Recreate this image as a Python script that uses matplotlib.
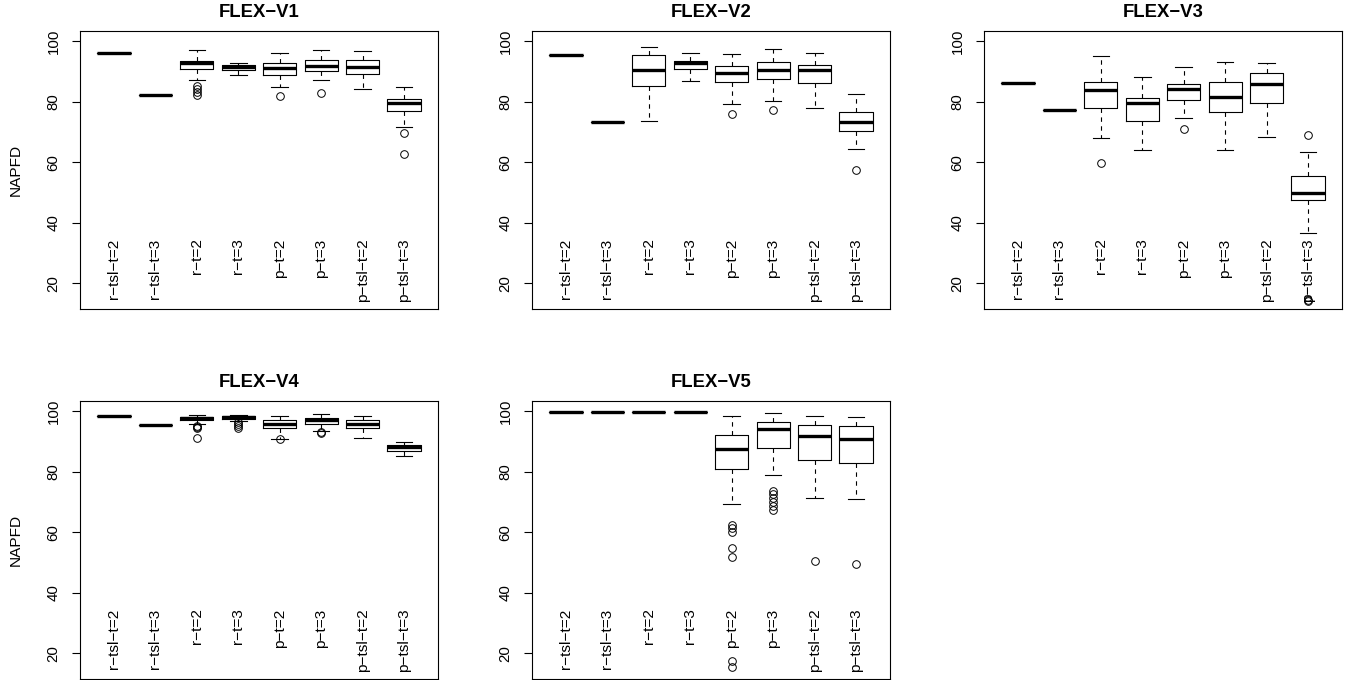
import matplotlib
matplotlib.use('Agg')
import matplotlib.pyplot as plt

plt.rcParams['font.family'] = ['Liberation Sans', 'DejaVu Sans']

# group names (R draws '-' as a minus sign)
labels = ['r−tsl−t=2', 'r−tsl−t=3', 'r−t=2', 'r−t=3',
          'p−t=2', 'p−t=3', 'p−tsl−t=2', 'p−tsl−t=3']
titles = ['FLEX−V1', 'FLEX−V2', 'FLEX−V3', 'FLEX−V4', 'FLEX−V5']

# five number summaries per group: whislo, q1, median, q3, whishi
v1_stats = [[96.1, 96.1, 96.1, 96.1, 96.1],
            [82.2, 82.2, 82.2, 82.2, 82.2],
            [87.2, 90.7, 92.7, 93.4, 97.1],
            [88.9, 90.6, 91.5, 92.3, 92.9],
            [85.0, 88.7, 91.1, 92.8, 96.2],
            [87.1, 90.1, 91.8, 93.9, 97.1],
            [84.2, 89.2, 91.4, 93.9, 96.8],
            [71.5, 76.9, 79.6, 81.0, 84.9]]
v1_fliers = [[], [], [85.2, 84.3, 83.2, 82.3], [], [82.0], [83.0], [], [69.8, 62.7]]

v2_stats = [[95.4, 95.4, 95.4, 95.4, 95.4],
            [73.3, 73.3, 73.3, 73.3, 73.3],
            [73.7, 85.3, 90.5, 95.6, 98.1],
            [86.9, 90.7, 92.9, 93.6, 96.2],
            [79.2, 86.5, 89.5, 91.7, 95.7],
            [80.4, 87.5, 90.5, 93.0, 97.6],
            [78.0, 86.1, 90.6, 92.2, 96.0],
            [64.3, 70.4, 73.3, 76.6, 82.7]]
v2_fliers = [[], [], [], [], [75.9], [77.2], [], [57.4]]

v3_stats = [[86.2, 86.2, 86.2, 86.2, 86.2],
            [77.4, 77.4, 77.4, 77.4, 77.4],
            [67.9, 77.9, 83.9, 86.6, 95.3],
            [64.2, 73.5, 79.5, 81.3, 88.3],
            [74.5, 80.7, 84.1, 86.0, 91.6],
            [64.0, 76.6, 81.7, 86.4, 93.3],
            [68.5, 79.5, 85.9, 89.6, 92.9],
            [36.5, 47.5, 49.9, 55.6, 63.5]]
v3_fliers = [[], [], [59.7], [], [71.1], [], [], [69.1, 14.6, 14.2]]

v4_stats = [[98.5, 98.5, 98.5, 98.5, 98.5],
            [95.5, 95.5, 95.5, 95.5, 95.5],
            [95.7, 97.1, 97.7, 98.1, 98.7],
            [96.9, 97.6, 98.0, 98.4, 98.7],
            [90.9, 94.5, 95.8, 97.0, 98.4],
            [93.6, 95.9, 97.1, 97.7, 99.0],
            [91.1, 94.4, 95.9, 97.0, 98.4],
            [85.3, 87.0, 88.1, 88.9, 90.0]]
v4_fliers = [[], [], [95.2, 94.8, 94.5, 91.3], [96.6, 95.9, 95.1, 94.4],
             [90.8], [93.2, 92.8], [], []]

v5_stats = [[99.6, 99.6, 99.6, 99.6, 99.6],
            [99.6, 99.6, 99.6, 99.6, 99.6],
            [99.6, 99.6, 99.6, 99.6, 99.6],
            [99.6, 99.6, 99.6, 99.6, 99.6],
            [69.5, 80.8, 87.6, 92.1, 98.4],
            [78.8, 88.0, 94.3, 96.5, 99.5],
            [71.3, 83.8, 91.7, 95.4, 98.5],
            [71.0, 82.8, 91.0, 95.0, 98.1]]
v5_fliers = [[], [], [], [], [62.3, 61.4, 60.2, 54.7, 51.8, 17.5, 15.4],
             [73.5, 72.5, 71.2, 70.0, 68.6, 67.4], [50.4], [49.6]]

panels = [(v1_stats, v1_fliers), (v2_stats, v2_fliers), (v3_stats, v3_fliers),
          (v4_stats, v4_fliers), (v5_stats, v5_fliers)]

W, H = 1351, 680
rects = [(80, 31), (532, 31), (984, 31), (80, 401), (532, 401)]
pw, ph = 358, 278

fig = plt.figure(figsize=(W / 100, H / 100), dpi=100)

for i, (stats, fliers) in enumerate(panels):
    x0, y0 = rects[i]
    ax = fig.add_axes([x0 / W, 1 - (y0 + ph) / H, pw / W, ph / H])
    bstats = []
    for s, f in zip(stats, fliers):
        bstats.append(dict(whislo=s[0], q1=s[1], med=s[2], q3=s[3], whishi=s[4], fliers=f))
    ax.bxp(bstats, positions=range(1, 9), widths=0.8, capwidths=0.4,
           boxprops=dict(color='black', lw=0.8),
           medianprops=dict(color='black', lw=2.4, solid_capstyle='butt'),
           whiskerprops=dict(color='black', lw=0.8, linestyle=(0, (4, 4))),
           capprops=dict(color='black', lw=0.8),
           flierprops=dict(marker='o', markerfacecolor='none', markeredgecolor='black',
                           markersize=5.5, markeredgewidth=0.7))
    for j, lab in enumerate(labels):
        ax.text(j + 1, 34.8, lab, rotation=90, ha='center', va='top', fontsize=11.1)
    # R style axis range: 4% padding beyond 0.5 .. 8.5
    ax.set_xlim(0.18, 8.82)
    ax.set_ylim(11.5, 103.4)
    ax.set_xticks([])
    ax.set_yticks([20, 40, 60, 80, 100])
    ax.tick_params(axis='y', length=6, width=0.8, labelsize=10.8, pad=8, labelrotation=90)
    plt.setp(ax.get_yticklabels(), va='center')
    for sp in ax.spines.values():
        sp.set_linewidth(0.8)
    ax.set_title(titles[i], fontsize=13.3, fontweight='bold', pad=10)
    if i in (0, 3):
        ax.set_ylabel('NAPFD', fontsize=11.1, labelpad=17)

fig.savefig('out.png', dpi=100)
